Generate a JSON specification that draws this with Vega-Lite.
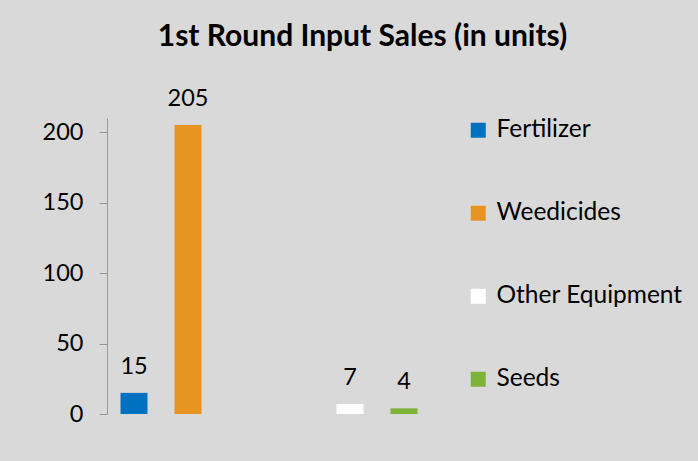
{
  "$schema": "https://vega.github.io/schema/vega-lite/v6.json",
  "autosize": {"type": "none"},
  "padding": {"left": 107, "top": 118, "right": 267, "bottom": 47},
  "width": 324,
  "height": 296,
  "background": "#d9d9d9",
  "title": {
    "text": "1st Round Input Sales (in units)",
    "anchor": "middle",
    "frame": "bounds",
    "font": "Lato",
    "fontSize": 30,
    "fontWeight": "bold",
    "color": "#000000",
    "baseline": "alphabetic",
    "offset": 11
  },
  "data": {
    "values": [
      {"item": "Fertilizer", "value": 15},
      {"item": "Weedicides", "value": 205},
      {"item": "Other Equipment", "value": 7},
      {"item": "Seeds", "value": 4}
    ]
  },
  "encoding": {
    "x": {
      "field": "item",
      "type": "nominal",
      "axis": null,
      "scale": {
        "domain": ["Fertilizer", "Weedicides", " ", "  ", "Other Equipment", "Seeds"],
        "paddingInner": 0.5,
        "paddingOuter": 0.25
      }
    },
    "y": {
      "field": "value",
      "type": "quantitative",
      "scale": {"domain": [0, 210], "nice": false},
      "axis": {
        "values": [0, 50, 100, 150, 200],
        "title": null,
        "grid": false,
        "domainColor": "#999999",
        "tickColor": "#999999",
        "tickSize": 8,
        "labelPadding": 16,
        "labelFont": "Lato",
        "labelFontSize": 23.5,
        "labelColor": "#000000"
      }
    }
  },
  "layer": [
    {
      "mark": {"type": "bar"},
      "encoding": {
        "color": {
          "field": "item",
          "type": "nominal",
          "scale": {
            "domain": ["Fertilizer", "Weedicides", "Other Equipment", "Seeds"],
            "range": ["#0070C0", "#E89423", "#FFFFFF", "#7EB33A"]
          },
          "legend": {
            "title": null,
            "orient": "none",
            "legendX": 359,
            "legendY": 0,
            "symbolType": "square",
            "symbolSize": 225,
            "symbolStrokeWidth": 0,
            "symbolOpacity": 1,
            "labelFont": "Lato",
            "labelFontSize": 24.5,
            "labelColor": "#000000",
            "labelOffset": 6,
            "rowPadding": 58,
            "labelLimit": 300
          }
        }
      }
    },
    {
      "mark": {"type": "text", "baseline": "alphabetic", "dy": -19, "font": "Lato", "fontSize": 23.5, "color": "#000000"},
      "encoding": {
        "text": {"field": "value", "type": "quantitative"}
      }
    }
  ],
  "config": {
    "view": {"stroke": null}
  }
}
